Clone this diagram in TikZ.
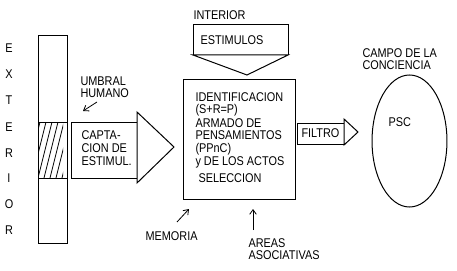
\documentclass[tikz,border=0pt]{standalone}
\usepackage{fontspec}
\setmainfont{Liberation Sans}
\newfontfamily\lbfont[FakeStretch=0.86]{Liberation Sans}
\usetikzlibrary{arrows.meta}
\begin{document}
\begin{tikzpicture}[x=0.75pt,y=-0.75pt,line width=0.75pt,
  lbl/.style={font=\lbfont\fontsize{9.5}{9.75}\selectfont,anchor=west,inner sep=0pt},
  letter/.style={font=\lbfont\fontsize{9.5}{9.75}\selectfont,inner sep=0pt},
  arr/.style={-{Straight Barb[length=3.5pt,width=5pt]},line width=0.6pt}]
\useasboundingbox (0,0) rectangle (457,271);
\fill[white] (0,0) rectangle (457,271);
% EXTERIOR
\foreach \l/\y [count=\i] in {E/48,X/74,T/100,E/127,R/153,I/178,O/204,R/230}
  \node[letter] (ext\i) at (9,\y) {\l};
% bar
\draw (38,36) rectangle (67,243);
\draw (38,122) -- (67,122);
\draw (38,178) -- (67,178);
\begin{scope}
  \clip (38,122) rectangle (63,178);
  \foreach \i in {-18,-12,...,30}
    \draw[line width=0.6pt] (38+\i,178) -- (52+\i,122);
\end{scope}
% umbral
\node[lbl] (umb1) at (80,81) {UMBRAL};
\node[lbl] (umb2) at (80,93) {HUMANO};
\coordinate (umbA) at (97,102);
\coordinate (umbB) at (83,111);
\draw[arr] (umbA) -- (umbB);
% captacion block arrow
\draw (137,122) -- (71,122) -- (71,178) -- (137,178);
\draw (137,112) -- (174,147) -- (137,183) -- cycle;
\node[lbl,align=left] (capt) at (81,148) {CAPTA-\\CION DE\\ESTIMUL.};
% interior / estimulos
\node[lbl] (interior) at (193,15) {INTERIOR};
\draw (193,55) -- (193,25) -- (288,25) -- (288,55);
\draw (193,55) -- (247,75) -- (288,55) -- cycle;
\node[lbl] (estim) at (200,40) {ESTIMULOS};
% main box
\draw (183,80) rectangle (295,199);
\node[lbl] (m1) at (195,97) {IDENTIFICACION};
\node[lbl] (m2) at (195,110) {(S+R=P)};
\node[lbl] (m3) at (195,123) {ARMADO DE};
\node[lbl] (m4) at (195,135) {PENSAMIENTOS};
\node[lbl] (m5) at (195,149) {(PPnC)};
\node[lbl] (m6) at (195,162) {y DE LOS ACTOS};
\node[lbl] (m7) at (198,178) {SELECCION};
% filtro
\draw (344,123) -- (297,123) -- (297,144) -- (344,144);
\draw (344,119) -- (358,132) -- (344,145) -- cycle;
\node[lbl] (filtro) at (301,133) {FILTRO};
% conciencia
\node[lbl] (campo1) at (362,53) {CAMPO DE LA};
\node[lbl] (campo2) at (362,65) {CONCIENCIA};
\draw (409.5,141) ellipse [x radius=28.1pt, y radius=49.5pt];
\node[lbl] (psc) at (388,122) {PSC};
% memoria / areas
\node[lbl] (mem) at (145,236) {MEMORIA};
\coordinate (memA) at (177,222);
\coordinate (memB) at (189,209);
\draw[arr] (memA) -- (memB);
\node[lbl] (ar1) at (248,243) {AREAS};
\node[lbl] (ar2) at (248,255) {ASOCIATIVAS};
\coordinate (arA) at (253,230);
\coordinate (arB) at (253,209);
\draw[arr] (arA) -- (arB);
\end{tikzpicture}
\end{document}
